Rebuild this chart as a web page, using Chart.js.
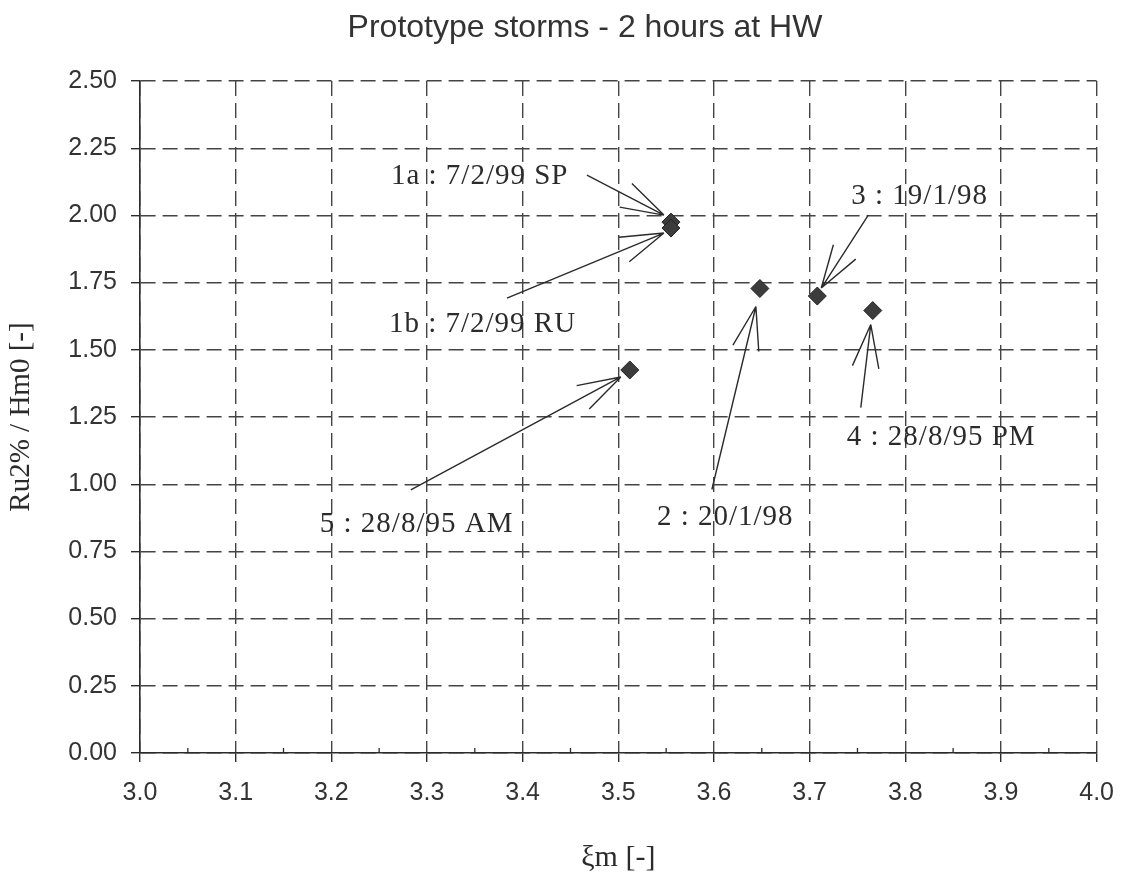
<!DOCTYPE html>
<html lang="en">
<head>
    <meta charset="UTF-8">
    <title>Prototype storms - 2 hours at HW</title>
    <style>
        body {
            margin: 0;
            background: #fff;
        }
        #wrap {
            width: 1130px;
            height: 887px;
        }
    </style>
</head>
<body>
    <div id="wrap">
        <canvas id="chart" width="1130" height="887"></canvas>
    </div>

    <script src="https://cdn.jsdelivr.net/npm/chart.js"></script>
    <script>
        // storm events
        const stormLabels = ['1a : 7/2/99 SP', '1b : 7/2/99 RU', '2 : 20/1/98', '3 : 19/1/98', '4 : 28/8/95 PM', '5 : 28/8/95 AM'];
        const xiValues = [3.555, 3.555, 3.648, 3.708, 3.766, 3.512];
        const ruValues = [1.975, 1.953, 1.728, 1.700, 1.646, 1.425];

        const xTickLabels = ['3.0', '3.1', '3.2', '3.3', '3.4', '3.5', '3.6', '3.7', '3.8', '3.9', '4.0'];
        const yTickLabels = ['0.00', '0.25', '0.50', '0.75', '1.00', '1.25', '1.50', '1.75', '2.00', '2.25', '2.50'];

        // where each label / arrow sits, in px relative to its point
        const labelLayout = [
            { text: [-280, -38], start: [-84, -47], tip: [-7, -7] },
            { text: [-282, 104], start: [-164, 70], tip: [-7, 5] },
            { text: [-103, 236], start: [-48, 201], tip: [-4, 18] },
            { text: [34, -92], start: [51, -81], tip: [4, -8] },
            { text: [-26, 134], start: [-12, 97], tip: [-2, 14] },
            { text: [-310, 162], start: [-219, 120], tip: [-9, 7] }
        ];

        const ink = '#2b2b2b';

        const stormNotes = {
            id: 'stormNotes',
            beforeDatasetsDraw(chart) {
                const ctx = chart.ctx;
                const x = chart.scales.x, y = chart.scales.y;
                ctx.save();
                // small minor ticks on the x axis
                ctx.strokeStyle = ink;
                ctx.lineWidth = 1.3;
                const bottom = chart.chartArea.bottom;
                for (let i = 0; i < x.ticks.length - 1; i++) {
                    const mx = x.getPixelForValue((x.ticks[i].value + x.ticks[i + 1].value) / 2);
                    ctx.beginPath();
                    ctx.moveTo(mx, bottom);
                    ctx.lineTo(mx, bottom - 5);
                    ctx.stroke();
                }
                // arrows
                ctx.lineWidth = 1.4;
                xiValues.forEach((v, i) => {
                    const px = x.getPixelForValue(v);
                    const py = y.getPixelForValue(ruValues[i]);
                    const a = labelLayout[i];
                    const sx = px + a.start[0], sy = py + a.start[1];
                    const tx = px + a.tip[0], ty = py + a.tip[1];
                    ctx.beginPath();
                    ctx.moveTo(sx, sy);
                    ctx.lineTo(tx, ty);
                    const ang = Math.atan2(sy - ty, sx - tx);
                    [-0.3, 0.3].forEach(d => {
                        ctx.moveTo(tx, ty);
                        ctx.lineTo(tx + 45 * Math.cos(ang + d), ty + 45 * Math.sin(ang + d));
                    });
                    ctx.stroke();
                });
                ctx.restore();
            },
            afterDraw(chart) {
                const ctx = chart.ctx;
                const x = chart.scales.x, y = chart.scales.y;
                ctx.save();
                ctx.fillStyle = '#333';
                ctx.font = '32px "Liberation Sans", Arial, sans-serif';
                ctx.textAlign = 'center';
                ctx.textBaseline = 'alphabetic';
                ctx.fillText('Prototype storms - 2 hours at HW', 585, 37);

                ctx.fillStyle = ink;
                ctx.font = '29px "Liberation Serif", "Times New Roman", serif';
                ctx.textAlign = 'left';
                ctx.letterSpacing = '1px';
                xiValues.forEach((v, i) => {
                    const px = x.getPixelForValue(v);
                    const py = y.getPixelForValue(ruValues[i]);
                    const a = labelLayout[i];
                    ctx.fillText(stormLabels[i], px + a.text[0], py + a.text[1]);
                });
                ctx.restore();
            }
        };

        const points = xiValues.map((v, i) => ({ x: v, y: ruValues[i] }));

        new Chart(document.getElementById('chart'), {
            type: 'scatter',
            data: {
                datasets: [{
                    label: 'storms',
                    data: points,
                    pointStyle: 'rectRot',
                    pointRadius: 9,
                    backgroundColor: '#3c3c3c',
                    borderColor: '#222',
                    borderWidth: 1
                }, {
                    label: 'centre',
                    data: points,
                    pointStyle: 'cross',
                    pointRadius: 3.5,
                    borderColor: '#fff',
                    borderWidth: 1.5
                }]
            },
            options: {
                responsive: false,
                animation: false,
                layout: {
                    padding: { top: 81, right: 23, bottom: 0, left: 0 }
                },
                plugins: {
                    legend: { display: false },
                    tooltip: { enabled: false }
                },
                scales: {
                    x: {
                        type: 'linear',
                        min: 3,
                        max: 4,
                        afterFit: s => { s.height = 134; },
                        afterBuildTicks: s => {
                            s.ticks = xTickLabels.map(t => ({ value: parseFloat(t) }));
                        },
                        ticks: {
                            callback: (v, i) => xTickLabels[i],
                            color: '#333',
                            padding: 16,
                            maxRotation: 0,
                            font: { family: '"Liberation Sans", Arial, sans-serif', size: 25 }
                        },
                        grid: {
                            color: '#444',
                            lineWidth: 1.4,
                            tickLength: 9,
                            tickColor: ink,
                            tickWidth: 1.4
                        },
                        border: { color: ink, width: 1.6, dash: [15, 7] },
                        title: {
                            display: true,
                            text: 'ξm [-]',
                            color: ink,
                            padding: { top: 0, bottom: 11 },
                            font: { family: '"Liberation Serif", "Times New Roman", serif', size: 30 }
                        }
                    },
                    y: {
                        type: 'linear',
                        min: 0,
                        max: 2.5,
                        afterFit: s => { s.width = 140; },
                        afterBuildTicks: s => {
                            s.ticks = yTickLabels.map(t => ({ value: parseFloat(t) }));
                        },
                        ticks: {
                            callback: (v, i) => yTickLabels[i],
                            color: '#333',
                            padding: 14,
                            font: { family: '"Liberation Sans", Arial, sans-serif', size: 25 }
                        },
                        grid: {
                            color: '#444',
                            lineWidth: 1.4,
                            tickLength: 9,
                            tickColor: ink,
                            tickWidth: 1.4
                        },
                        border: { color: ink, width: 1.6, dash: [15, 7] },
                        title: {
                            display: true,
                            text: 'Ru2% / Hm0 [-]',
                            color: ink,
                            padding: { top: 4, bottom: 0 },
                            font: { family: '"Liberation Serif", "Times New Roman", serif', size: 29 }
                        }
                    }
                }
            },
            plugins: [stormNotes]
        });
    </script>
</body>
</html>
